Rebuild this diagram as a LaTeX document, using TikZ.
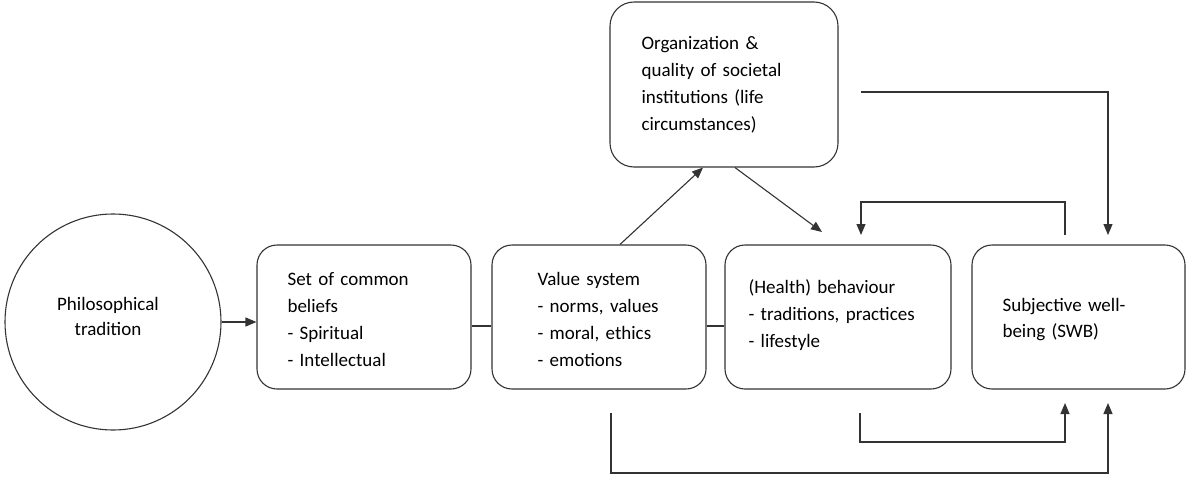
\documentclass[tikz,border=0pt]{standalone}
\usepackage{fontspec}
\setmainfont{Carlito}
\usetikzlibrary{arrows.meta}
\begin{document}
\begin{tikzpicture}[x=1pt,y=-1pt,
  line width=1.1pt, draw=black!80,
  rbox/.style={draw=black!80, rounded corners=20pt, minimum width=#1, minimum height=144pt, inner sep=0pt},
  circ/.style={draw=black!80, circle, minimum size=216pt, inner sep=0pt},
  txt/.style={anchor=base west, inner sep=0pt, text width=#1, align=left,
     font=\fontsize{19}{27}\selectfont},
  arr/.style={-{Triangle[length=11pt,width=9pt]}}]
\useasboundingbox (0,0) rectangle (1187,477);
% shapes
\node[circ] (phil) at (113,322) {};
\node[rbox=214pt] (b1) at (364,317) {};
\node[rbox=214pt] (b2) at (599,317) {};
\node[rbox=226pt] (b3) at (838,317) {};
\node[rbox=213pt] (b4) at (1078.5,317) {};
\node[rbox=228pt, minimum height=165pt, rounded corners=24pt] (org) at (724,84.5) {};
% texts
\node[anchor=base, inner sep=0pt, align=center, font=\fontsize{19}{25}\selectfont] (philt) at (108,335) {Philosophical\\tradition};
\node[txt=170pt] (b1t) at (287,285) {Set of common\\beliefs\\- Spiritual\\- Intellectual};
\node[txt=160pt] (b2t) at (537,285) {Value system\\- norms, values\\- moral, ethics\\- emotions};
\node[txt=200pt] (b3t) at (748,293) {(Health) behaviour\\- traditions, practices\\- lifestyle};
\node[txt=170pt, font=\fontsize{19}{25.5}\selectfont] (b4t) at (1002,311.5) {Subjective well-\\being (SWB)};
\node[txt=180pt] (orgt) at (641,49) {Organization \&\\quality of societal\\institutions (life\\circumstances)};
% free ends
\coordinate (t1) at (822,232);
\coordinate (s2) at (861,92);
\coordinate (t2) at (1108,235);
\coordinate (s3) at (1065,235);
\coordinate (t3) at (861,235);
\coordinate (s4) at (860,413);
\coordinate (t4) at (1065,403);
\coordinate (s5) at (611,413);
\coordinate (t5) at (1108,403);
% connectors
\draw[arr] (phil.east) -- (phil.east -| b1.west);
\draw ([yshift=-9pt]b1.east) -- ([yshift=-9pt]b2.west);
\draw ([yshift=-9pt]b2.east) -- ([yshift=-9pt]b3.west);
\draw[arr] ([xshift=21pt]b2.north) -- ([xshift=-21pt]org.south);
\draw[arr] ([xshift=11pt]org.south) -- (t1);
\draw[arr] (s2) -| (t2);
\draw[arr] (s3) -- (s3 |- 0,202) -| (t3);
\draw[arr] (s4) -- (s4 |- 0,442) -| (t4);
\draw[arr] (s5) -- (s5 |- 0,473) -| (t5);
\end{tikzpicture}
\end{document}
